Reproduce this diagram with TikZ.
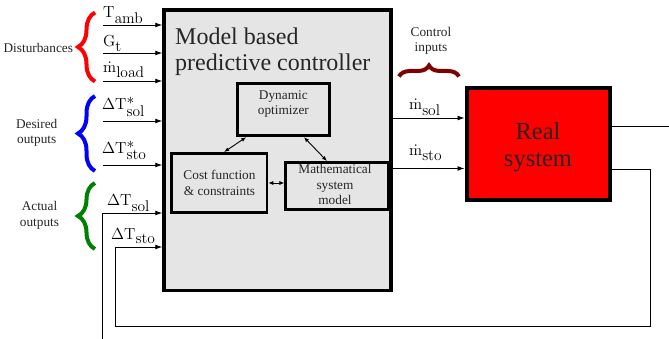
\RequirePackage{fix-cm}
\documentclass[tikz,border=0pt]{standalone}
\usepackage[no-math]{fontspec}
\setmainfont{Liberation Serif}
\usetikzlibrary{arrows.meta,decorations.pathreplacing}
\DeclareMathSizes{16}{16}{15.5}{11}
\definecolor{dred}{RGB}{128,0,0}
\definecolor{dgreen}{RGB}{0,128,0}
\begin{document}
\begin{tikzpicture}[x=1pt,y=-1pt,
  arr/.style={-{Latex[length=7pt,width=5pt]}, line width=0.9pt},
  darr/.style={{Latex[length=5pt,width=4pt]}-{Latex[length=5pt,width=4pt]}, line width=0.9pt},
  sm/.style={font=\fontsize{13.3}{15.7}\selectfont, text=black!85, inner sep=0pt},
  ml/.style={font=\fontsize{16}{19}\selectfont, inner sep=0pt, anchor=base west},
  blk/.style={draw, inner sep=0pt},
  brc/.style={decorate, decoration={brace, amplitude=17pt}, line width=4pt},
  hbrc/.style={decorate, decoration={brace, amplitude=11pt}, line width=4pt},
]
\useasboundingbox (0,0) rectangle (669,339);
\clip (0,0) rectangle (669,339);

% controller
\node[blk, line width=3.5pt, fill=black!10, minimum width=227pt, minimum height=280.5pt] (mpc) at (277.5,150.25) {};
\node[anchor=base west, inner sep=0pt, font=\fontsize{24}{26}\selectfont, text=black!85] (title) at (175,45)
  {\begin{tabular}[t]{@{}l@{}}Model based\\predictive controller\end{tabular}};

% inner boxes
\node[blk, line width=3pt, minimum width=91.3pt, minimum height=52pt] (opt) at (283.35,109.7) {};
\node[sm, anchor=base] (optt) at (283.35,99.3) {\begin{tabular}[t]{@{}c@{}}Dynamic\\optimizer\end{tabular}};
\node[blk, line width=2.5pt, minimum width=95.7pt, minimum height=59.4pt] (cost) at (219.15,183) {};
\node[sm, anchor=base] (costt) at (219.5,179.5) {\begin{tabular}[t]{@{}c@{}}Cost function\\\& constraints\end{tabular}};
\node[blk, line width=2.5pt, minimum width=102.3pt, minimum height=47.4pt] (math) at (336.85,186) {};
\node[sm, anchor=base, font=\fontsize{13.3}{15.5}\selectfont] (matht) at (335,174) {\begin{tabular}[t]{@{}c@{}}Mathematical\\system\\model\end{tabular}};

\draw[darr] ([xshift=10pt]opt.south west) -- ([xshift=54pt]cost.north west);
\draw[darr] ([xshift=-26.5pt]opt.south east) -- ([xshift=42.5pt]math.north west);
\draw[darr] (cost.east) -- (cost.east -| math.west);

% real system
\node[blk, line width=4pt, fill=red, minimum width=143pt, minimum height=112.5pt] (rs) at (538,144.25) {};
\node[anchor=base, inner sep=0pt, font=\fontsize{24.5}{27}\selectfont, text=black!85] (rst) at (538,139.3)
  {\begin{tabular}[t]{@{}c@{}}Real\\system\end{tabular}};

% left inputs
\coordinate (d1) at (103,25);
\coordinate (d2) at (103,53);
\coordinate (d3) at (103,81);
\coordinate (d4) at (103,121);
\coordinate (d5) at (103,165);
\foreach \c in {d1,d2,d3,d4,d5} \draw[arr] (\c) -- (\c -| mpc.west);
\node[ml] (lTamb) at (103,18) {$\mathrm{T}_{\mathrm{amb}}$};
\node[ml] (lGt) at (103,47) {$\mathrm{G}_{\mathrm{t}}$};
\node[ml] (lml) at (103,72.5) {$\dot{\mathrm{m}}_{\mathrm{load}}$};
\node[ml] (lTsols) at (102,110) {$\Delta\mathrm{T}^{*}_{\mathrm{sol}}$};
\node[ml] (lTstos) at (102,154) {$\Delta\mathrm{T}^{*}_{\mathrm{sto}}$};
\node[ml] (lTsol) at (107,206) {$\Delta\mathrm{T}_{\mathrm{sol}}$};
\node[ml] (lTsto) at (111,239.5) {$\Delta\mathrm{T}_{\mathrm{sto}}$};

% control inputs
\coordinate (u1) at (392,118);
\coordinate (u2) at (392,168.5);
\draw[arr] (u1 -| mpc.east) -- (u1 -| rs.west);
\draw[arr] (u2 -| mpc.east) -- (u2 -| rs.west);
\node[ml] (lmsol) at (409,110) {$\dot{\mathrm{m}}_{\mathrm{sol}}$};
\node[ml] (lmsto) at (409,156) {$\dot{\mathrm{m}}_{\mathrm{sto}}$};

% feedback loops
\coordinate (o1) at (690,126);
\coordinate (o2) at (690,339);
\coordinate (o3) at (102.5,339);
\coordinate (o4) at (102.5,213);
\draw[arr] (o1 -| rs.east) -- (o1) -- (o2) -- (o3) -- (o4) -- (o4 -| mpc.west);
\coordinate (i1) at (650,169.5);
\coordinate (i2) at (650,326.5);
\coordinate (i3) at (115.5,326.5);
\coordinate (i4) at (115.5,247);
\draw[arr] (i1 -| rs.east) -- (i1) -- (i2) -- (i3) -- (i4) -- (i4 -| mpc.west);

% braces
\coordinate (b1a) at (95,81.5); \coordinate (b1b) at (95,12.5);
\coordinate (b2a) at (95,171); \coordinate (b2b) at (95,96);
\coordinate (b3a) at (95,249); \coordinate (b3b) at (95,183);
\draw[brc, red] (b1a) -- (b1b);
\draw[brc, blue] (b2a) -- (b2b);
\draw[brc, dgreen] (b3a) -- (b3b);
\coordinate (b4a) at (399,76.5); \coordinate (b4b) at (459,76.5);
\draw[hbrc, dred] (b4a) -- (b4b);

% group labels
\node[sm, anchor=base] (ldist) at (38.3,52.3) {Disturbances};
\node[sm, anchor=base] (ldes) at (36.7,128.3) {\begin{tabular}[t]{@{}c@{}}Desired\\outputs\end{tabular}};
\node[sm, anchor=base] (lact) at (39.5,211) {\begin{tabular}[t]{@{}c@{}}Actual\\outputs\end{tabular}};
\node[sm, anchor=base, font=\fontsize{13.3}{15}\selectfont] (lci) at (431,36.7) {\begin{tabular}[t]{@{}c@{}}Control\\inputs\end{tabular}};
\end{tikzpicture}
\end{document}
